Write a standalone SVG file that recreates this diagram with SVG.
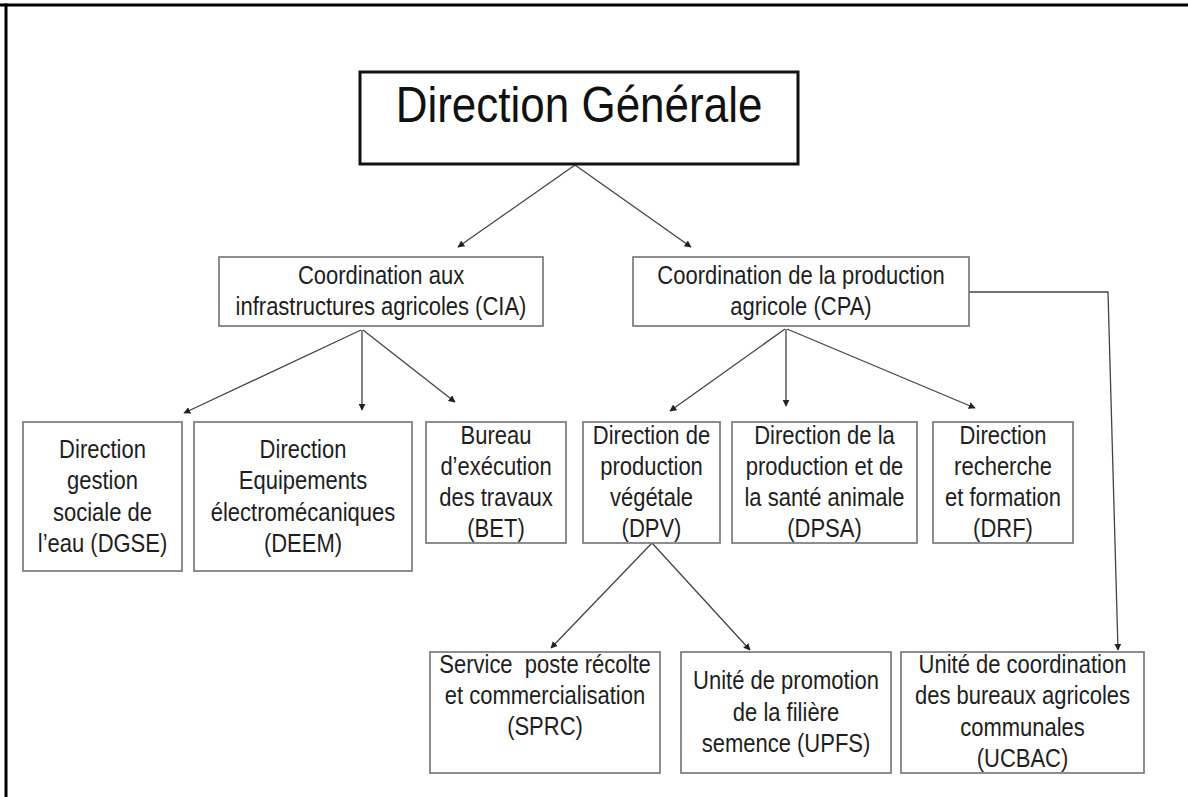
<svg xmlns="http://www.w3.org/2000/svg" width="1188" height="797" viewBox="0 0 1188 797">
<defs>
<style>
.box{fill:#fff;stroke:#7a7a7a;stroke-width:1.7}
.dg{fill:#fff;stroke:#111;stroke-width:3}
.t{font-family:"Liberation Sans",Arial,sans-serif;font-size:22px;fill:#1e1e1e;text-anchor:middle}
.big{font-family:"Liberation Sans",Arial,sans-serif;font-size:44px;fill:#111;text-anchor:middle}
.c{fill:none;stroke:#444;stroke-width:1.3}
</style>
<marker id="ah" viewBox="0 0 10 10" refX="9" refY="5" markerWidth="7" markerHeight="7" markerUnits="userSpaceOnUse" orient="auto">
<path d="M0,0 L10,5 L0,10 z" fill="#222"/>
</marker>
</defs>
<rect width="1188" height="797" fill="#fff"/>
<g id="frame">
<line x1="0" y1="5" x2="1188" y2="5" stroke="#000" stroke-width="3"/>
<line x1="6" y1="3.5" x2="6" y2="797" stroke="#000" stroke-width="3"/>
</g>
<g id="connectors">
<line class="c" x1="575" y1="165" x2="458" y2="247" marker-end="url(#ah)"/>
<line class="c" x1="575" y1="165" x2="691" y2="247" marker-end="url(#ah)"/>
<line class="c" x1="361" y1="330" x2="184" y2="413" marker-end="url(#ah)"/>
<line class="c" x1="362" y1="330" x2="362" y2="410" marker-end="url(#ah)"/>
<line class="c" x1="363" y1="330" x2="455" y2="402" marker-end="url(#ah)"/>
<line class="c" x1="785" y1="329" x2="670" y2="411" marker-end="url(#ah)"/>
<line class="c" x1="786" y1="329" x2="786" y2="406" marker-end="url(#ah)"/>
<line class="c" x1="787" y1="329" x2="975" y2="408" marker-end="url(#ah)"/>
<line class="c" x1="652" y1="543" x2="551" y2="648" marker-end="url(#ah)"/>
<line class="c" x1="652" y1="543" x2="750" y2="650" marker-end="url(#ah)"/>
<path class="c" d="M969,292 L1108,292 L1118,650" marker-end="url(#ah)"/>
</g>
<g id="dg">
<rect class="dg" x="360" y="72" width="438" height="92"/>
<text class="big" transform="translate(579,122) scale(1,1.12)">Direction Générale</text>
</g>
<g id="cia">
<rect class="box" x="219" y="257" width="324" height="69"/>
<text class="t" transform="translate(381,284) scale(1,1.14)">Coordination aux</text>
<text class="t" transform="translate(381,315) scale(1,1.14)">infrastructures agricoles (CIA)</text>
</g>
<g id="cpa">
<rect class="box" x="633" y="257" width="336" height="69"/>
<text class="t" transform="translate(801,284) scale(1,1.14)">Coordination de la production</text>
<text class="t" transform="translate(801,315) scale(1,1.14)">agricole (CPA)</text>
</g>
<g id="dgse">
<rect class="box" x="23" y="422" width="159" height="149"/>
<text class="t" transform="translate(102.5,458) scale(1,1.14)">Direction</text>
<text class="t" transform="translate(102.5,489) scale(1,1.14)">gestion</text>
<text class="t" transform="translate(102.5,521) scale(1,1.14)">sociale de</text>
<text class="t" transform="translate(102.5,552) scale(1,1.14)">l’eau (DGSE)</text>
</g>
<g id="deem">
<rect class="box" x="194" y="422" width="218" height="149"/>
<text class="t" transform="translate(303,458) scale(1,1.14)">Direction</text>
<text class="t" transform="translate(303,489) scale(1,1.14)">Equipements</text>
<text class="t" transform="translate(303,521) scale(1,1.14)">électromécaniques</text>
<text class="t" transform="translate(303,552) scale(1,1.14)">(DEEM)</text>
</g>
<g id="bet">
<rect class="box" x="426" y="422" width="140" height="121"/>
<text class="t" transform="translate(496,444) scale(1,1.14)">Bureau</text>
<text class="t" transform="translate(496,475) scale(1,1.14)">d’exécution</text>
<text class="t" transform="translate(496,506) scale(1,1.14)">des travaux</text>
<text class="t" transform="translate(496,537) scale(1,1.14)">(BET)</text>
</g>
<g id="dpv">
<rect class="box" x="583" y="422" width="137" height="121"/>
<text class="t" transform="translate(651.5,444) scale(1,1.14)">Direction de</text>
<text class="t" transform="translate(651.5,475) scale(1,1.14)">production</text>
<text class="t" transform="translate(651.5,506) scale(1,1.14)">végétale</text>
<text class="t" transform="translate(651.5,537) scale(1,1.14)">(DPV)</text>
</g>
<g id="dpsa">
<rect class="box" x="732" y="422" width="185" height="121"/>
<text class="t" transform="translate(824.5,444) scale(1,1.14)">Direction de la</text>
<text class="t" transform="translate(824.5,475) scale(1,1.14)">production et de</text>
<text class="t" transform="translate(824.5,506) scale(1,1.14)">la santé animale</text>
<text class="t" transform="translate(824.5,537) scale(1,1.14)">(DPSA)</text>
</g>
<g id="drf">
<rect class="box" x="933" y="422" width="140" height="121"/>
<text class="t" transform="translate(1003,444) scale(1,1.14)">Direction</text>
<text class="t" transform="translate(1003,475) scale(1,1.14)">recherche</text>
<text class="t" transform="translate(1003,506) scale(1,1.14)">et formation</text>
<text class="t" transform="translate(1003,537) scale(1,1.14)">(DRF)</text>
</g>
<g id="sprc">
<rect class="box" x="430" y="652" width="230" height="121"/>
<text class="t" transform="translate(545,673) scale(1,1.14)" xml:space="preserve">Service  poste récolte</text>
<text class="t" transform="translate(545,704) scale(1,1.14)">et commercialisation</text>
<text class="t" transform="translate(545,735) scale(1,1.14)">(SPRC)</text>
</g>
<g id="upfs">
<rect class="box" x="681" y="652" width="210" height="121"/>
<text class="t" transform="translate(786,689) scale(1,1.14)">Unité de promotion</text>
<text class="t" transform="translate(786,721) scale(1,1.14)">de la filière</text>
<text class="t" transform="translate(786,752) scale(1,1.14)">semence (UPFS)</text>
</g>
<g id="ucbac">
<rect class="box" x="901" y="652" width="243" height="121"/>
<text class="t" transform="translate(1022.5,673) scale(1,1.14)">Unité de coordination</text>
<text class="t" transform="translate(1022.5,704) scale(1,1.14)">des bureaux agricoles</text>
<text class="t" transform="translate(1022.5,736) scale(1,1.14)">communales</text>
<text class="t" transform="translate(1022.5,767) scale(1,1.14)">(UCBAC)</text>
</g>
</svg>
